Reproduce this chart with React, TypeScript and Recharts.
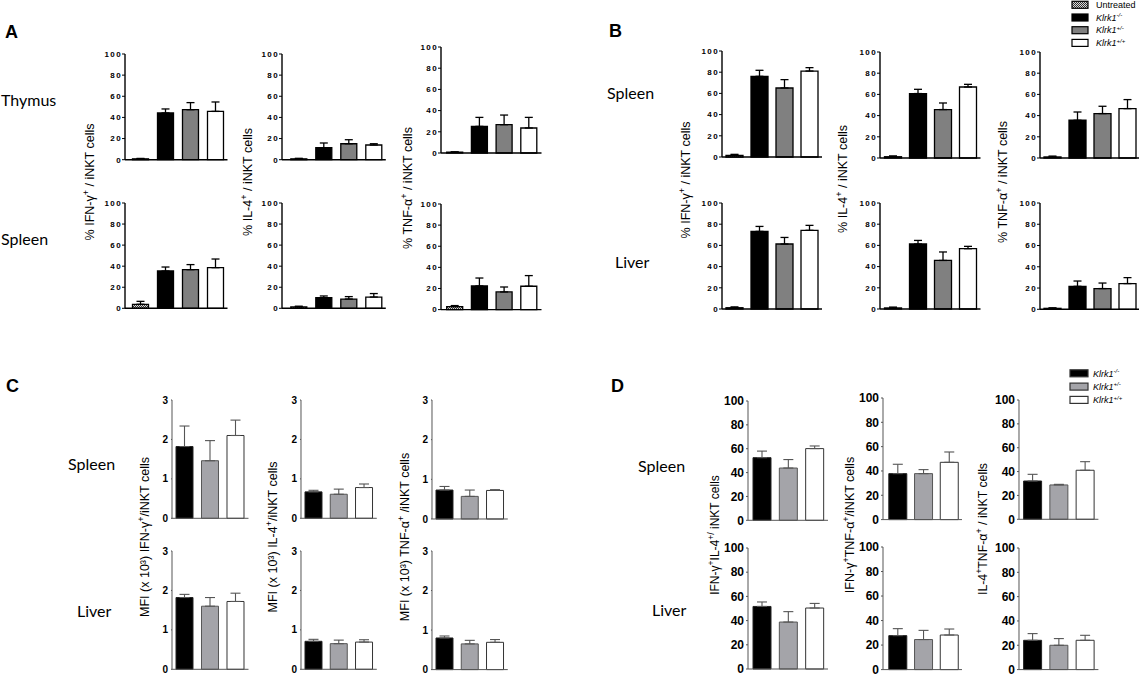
import React from 'react';
import { BarChart, Bar, XAxis, YAxis, ErrorBar, Cell } from 'recharts';

// ---------- categories / ticks ----------
const groupsAB = ['Untreated', 'Klrk1-/-', 'Klrk1+/-', 'Klrk1+/+'];
const groupsCD = ['Klrk1-/-', 'Klrk1+/-', 'Klrk1+/+'];
const pctTicks = [0, 20, 40, 60, 80, 100];
const mfiTicks = [0, 1, 2, 3];

// ---------- Panel A (Thymus / Spleen, % of iNKT cells) ----------
const aThyIfnMean = [0.8, 44.2, 47.3, 45.7];
const aThyIfnSem = [0.4, 3.8, 6.7, 8.9];
const aThyIl4Mean = [0.8, 11.4, 15.1, 13.9];
const aThyIl4Sem = [0.5, 4.4, 3.8, 1.2];
const aThyTnfMean = [0.8, 25.1, 26.7, 23.6];
const aThyTnfSem = [0.3, 8.5, 9.1, 10.0];
const aSplIfnMean = [3.8, 35.4, 36.7, 38.6];
const aSplIfnSem = [2.8, 3.8, 4.8, 8.2];
const aSplIl4Mean = [1.3, 10.1, 8.8, 10.7];
const aSplIl4Sem = [0.7, 1.6, 2.3, 3.3];
const aSplTnfMean = [2.8, 22.4, 16.7, 22.1];
const aSplTnfSem = [1.0, 7.5, 4.7, 10.1];

// ---------- Panel B (Spleen / Liver, % of iNKT cells) ----------
const bSplIfnMean = [1.6, 76.1, 65.1, 81.1];
const bSplIfnSem = [0.9, 5.7, 7.9, 3.2];
const bSplIl4Mean = [1.2, 60.8, 45.7, 67.0];
const bSplIl4Sem = [0.8, 4.0, 6.2, 2.5];
const bSplTnfMean = [1.0, 35.6, 41.9, 46.6];
const bSplTnfSem = [0.8, 7.8, 6.9, 8.5];
const bLivIfnMean = [1.2, 73.2, 61.3, 74.2];
const bLivIfnSem = [0.8, 4.7, 6.2, 4.7];
const bLivIl4Mean = [1.0, 61.3, 45.8, 56.9];
const bLivIl4Sem = [0.8, 3.4, 8.0, 2.2];
const bLivTnfMean = [0.9, 21.6, 19.5, 24.2];
const bLivTnfSem = [0.5, 5.0, 5.2, 5.6];

// ---------- Panel C (MFI x10^3) ----------
const cSplIfnMean = [1.82, 1.46, 2.1];
const cSplIfnSem = [0.52, 0.51, 0.39];
const cSplIl4Mean = [0.67, 0.61, 0.78];
const cSplIl4Sem = [0.04, 0.13, 0.09];
const cSplTnfMean = [0.73, 0.57, 0.72];
const cSplTnfSem = [0.09, 0.16, 0.02];
const cLivIfnMean = [1.82, 1.6, 1.72];
const cLivIfnSem = [0.08, 0.22, 0.21];
const cLivIl4Mean = [0.71, 0.65, 0.69];
const cLivIl4Sem = [0.05, 0.09, 0.06];
const cLivTnfMean = [0.8, 0.65, 0.69];
const cLivTnfSem = [0.05, 0.09, 0.07];

// ---------- Panel D (double positive, % of iNKT cells) ----------
const dSplIfnIl4Mean = [52.5, 43.8, 60.1];
const dSplIfnIl4Sem = [5.5, 7.1, 2.2];
const dSplIfnTnfMean = [37.8, 37.8, 47.1];
const dSplIfnTnfSem = [7.7, 3.3, 8.5];
const dSplIl4TnfMean = [32.1, 28.8, 41.1];
const dSplIl4TnfSem = [5.6, 0.5, 7.2];
const dLivIfnIl4Mean = [51.7, 38.8, 50.4];
const dLivIfnIl4Sem = [3.7, 8.6, 3.8];
const dLivIfnTnfMean = [27.7, 24.5, 28.2];
const dLivIfnTnfSem = [5.7, 7.5, 4.9];
const dLivIl4TnfMean = [24.1, 20.0, 24.1];
const dLivIl4TnfSem = [5.5, 5.5, 4.1];

// ---------- styles ----------
const SANS = "'Liberation Sans', Arial, sans-serif";
const NARROW = "'Liberation Sans Narrow', 'Liberation Sans', Arial, sans-serif";
const ROWF = "Lato, 'Open Sans', sans-serif";

type Style = {
  fills: string[];
  strokes: string[];
  barStroke: number;
  axisColor: string;
  axisWidth: number;
  tick: any;
  tickSize: number;
  tickMargin: number;
  errColor: string;
  errWidth: number;
  cap: number;
  yw: number;
};

const styleAB: Style = {
  fills: ['url(#checker)', '#000000', '#808080', '#ffffff'],
  strokes: ['#000', '#000', '#000', '#000'],
  barStroke: 1.3,
  axisColor: '#000',
  axisWidth: 1.4,
  tick: { fontSize: 8, fontWeight: 900, fill: '#000', fontFamily: SANS, letterSpacing: 1.4 },
  tickSize: 3,
  tickMargin: 0,
  errColor: '#000',
  errWidth: 1.3,
  cap: 4,
  yw: 30,
};

const styleC: Style = {
  fills: ['#000000', '#a4a4a9', '#ffffff'],
  strokes: ['#222', '#555', '#333'],
  barStroke: 1,
  axisColor: '#555',
  axisWidth: 1,
  tick: { fontSize: 10, fontWeight: 700, fill: '#000', fontFamily: SANS },
  tickSize: 1,
  tickMargin: 3,
  errColor: '#555',
  errWidth: 1.1,
  cap: 5,
  yw: 30,
};

const styleD: Style = {
  ...styleC,
  tick: { fontSize: 12, fontWeight: 700, fill: '#000', fontFamily: NARROW },
  tickSize: 2,
  tickMargin: 2,
  yw: 34,
};

type Geo = { x: number; top: number; bottom: number; w: number; pad: number; bar: number };

const G = {
  aIfnT: { x: 125, top: 54.3, bottom: 160, w: 102.5, pad: 2.5, bar: 16 },
  aIfnS: { x: 125, top: 202.7, bottom: 308, w: 102.5, pad: 2.5, bar: 16 },
  aIl4T: { x: 282, top: 54.3, bottom: 160, w: 103.8, pad: 3.8, bar: 16 },
  aIl4S: { x: 282, top: 202.7, bottom: 308, w: 103.8, pad: 3.8, bar: 16 },
  aTnfT: { x: 441, top: 47.3, bottom: 153.3, w: 100.5, pad: 1.7, bar: 16 },
  aTnfS: { x: 441, top: 203.7, bottom: 309.3, w: 100.5, pad: 1.7, bar: 16 },
  bIfnS: { x: 722.3, top: 50.7, bottom: 156.7, w: 100, pad: 0, bar: 17 },
  bIfnL: { x: 722.3, top: 203.3, bottom: 309.3, w: 100, pad: 0, bar: 17 },
  bIl4S: { x: 880, top: 51.7, bottom: 157.7, w: 100.5, pad: 0.5, bar: 17 },
  bIl4L: { x: 880, top: 203.3, bottom: 309.3, w: 100.5, pad: 0.5, bar: 17 },
  bTnfS: { x: 1040, top: 51.7, bottom: 157.7, w: 100, pad: 0, bar: 17 },
  bTnfL: { x: 1040, top: 202.7, bottom: 309, w: 100, pad: 0, bar: 17 },
  cIfnS: { x: 171.7, top: 400, bottom: 518.3, w: 76.5, pad: 0, bar: 17 },
  cIfnL: { x: 171.7, top: 550.7, bottom: 669, w: 76.5, pad: 0, bar: 17 },
  cIl4S: { x: 300.7, top: 400, bottom: 518.3, w: 75.8, pad: 0, bar: 17 },
  cIl4L: { x: 300.7, top: 550.7, bottom: 669, w: 75.8, pad: 0, bar: 17 },
  cTnfS: { x: 431.7, top: 400, bottom: 519, w: 75.8, pad: 0, bar: 17 },
  cTnfL: { x: 431.7, top: 550.7, bottom: 669.3, w: 75.8, pad: 0, bar: 17 },
  dIfnIl4S: { x: 747.7, top: 400.7, bottom: 520, w: 80, pad: 1, bar: 18 },
  dIfnIl4L: { x: 747.7, top: 548.3, bottom: 669.3, w: 80, pad: 1, bar: 18 },
  dIfnTnfS: { x: 883.3, top: 397.7, bottom: 519.3, w: 79, pad: 1.8, bar: 18 },
  dIfnTnfL: { x: 883.3, top: 546.7, bottom: 669.3, w: 79, pad: 1.8, bar: 18 },
  dIl4TnfS: { x: 1019.3, top: 400, bottom: 519.3, w: 79.4, pad: 0.6, bar: 18 },
  dIl4TnfL: { x: 1019.3, top: 547.7, bottom: 669.3, w: 79.4, pad: 0.6, bar: 18 },
};

function MiniBar(props: {
  geo: Geo;
  cats: string[];
  mean: number[];
  sem: number[];
  yMax: number;
  ticks: number[];
  st: Style;
}) {
  const { geo, cats, mean, sem, yMax, ticks, st } = props;
  const data = cats.map((c, i) => ({ name: c, v: mean[i], e: [0, sem[i]] }));
  const YW = st.yw;
  const MT = 7;
  const XH = 8;
  const MR = 3;
  const plotH = geo.bottom - geo.top;
  const width = YW + geo.w + MR;
  const height = MT + plotH + XH;
  return (
    <div style={{ position: 'absolute', left: geo.x - YW, top: geo.top - MT }}>
      <BarChart
        width={width}
        height={height}
        data={data}
        margin={{ top: MT, right: MR, left: 0, bottom: 0 }}
        barCategoryGap={0}
      >
        <XAxis
          dataKey="name"
          height={XH}
          tick={false}
          tickSize={3}
          interval={0}
          axisLine={{ stroke: st.axisColor, strokeWidth: st.axisWidth }}
          tickLine={{ stroke: st.axisColor, strokeWidth: 1 }}
          padding={{ left: geo.pad, right: 0 }}
        />
        <YAxis
          width={YW}
          domain={[0, yMax]}
          ticks={ticks}
          interval={0}
          tick={st.tick}
          tickSize={st.tickSize}
          tickMargin={st.tickMargin}
          axisLine={{ stroke: st.axisColor, strokeWidth: st.axisWidth }}
          tickLine={{ stroke: st.axisColor, strokeWidth: 1 }}
        />
        <Bar dataKey="v" barSize={geo.bar} isAnimationActive={false} strokeWidth={st.barStroke}>
          {data.map((d, i) => (
            <Cell key={d.name} fill={st.fills[i]} stroke={st.strokes[i]} />
          ))}
          <ErrorBar
            dataKey="e"
            direction="y"
            width={st.cap}
            stroke={st.errColor}
            strokeWidth={st.errWidth}
            isAnimationActive={false}
          />
        </Bar>
      </BarChart>
    </div>
  );
}

type Part = { t: string; sup?: boolean };

function VLabel({ cx, cy, size, parts }: { cx: number; cy: number; size: number; parts: Part[] }) {
  let shift = 0;
  const spans = parts.map((p, i) => {
    const target = p.sup ? -size * 0.4 : 0;
    const dy = target - shift;
    shift = target;
    return (
      <tspan key={i} dy={dy} fontSize={p.sup ? size * 0.72 : size}>
        {p.t}
      </tspan>
    );
  });
  return (
    <text
      transform={`translate(${cx},${cy}) rotate(-90)`}
      x={0}
      y={size * 0.35}
      textAnchor="middle"
      fontFamily={SANS}
      fontSize={size}
      fill="#000"
    >
      {spans}
    </text>
  );
}

function LegendRow({ x, y, w, fill, stroke, label, sup, tx, italic }: any) {
  return (
    <g>
      <rect x={x} y={y - 3.5} width={w} height={7} fill={fill} stroke={stroke} strokeWidth={1.2} />
      <text x={tx} y={y + 3.2} fontFamily={SANS} fontSize={9} fontStyle={italic ? 'italic' : 'normal'} fill="#000">
        {label}
        {sup ? (
          <tspan dy={-3.5} fontSize={6}>
            {sup}
          </tspan>
        ) : null}
      </text>
    </g>
  );
}

const legendLabelsB = ['Untreated', 'Klrk1', 'Klrk1', 'Klrk1'];
const legendSupsB = ['', '-/-', '+/-', '+/+'];

export default function App() {
  const ifnLbl: Part[] = [{ t: '% IFN-γ' }, { t: '+', sup: true }, { t: ' / iNKT cells' }];
  const il4Lbl: Part[] = [{ t: '% IL-4' }, { t: '+', sup: true }, { t: ' / iNKT cells' }];
  const tnfLbl: Part[] = [{ t: '% TNF-α' }, { t: '+', sup: true }, { t: ' / iNKT cells' }];

  return (
    <div
      style={{
        position: 'absolute',
        left: 0,
        top: 0,
        width: 1139,
        height: 677,
        background: '#fff',
        overflow: 'hidden',
      }}
    >
      <svg width={0} height={0} style={{ position: 'absolute' }}>
        <defs>
          <pattern id="checker" width={2} height={2} patternUnits="userSpaceOnUse">
            <rect width={2} height={2} fill="#d8d8d8" />
            <rect width={1} height={1} fill="#333" />
            <rect x={1} y={1} width={1} height={1} fill="#333" />
          </pattern>
        </defs>
      </svg>

      {/* Panel A */}
      <MiniBar geo={G.aIfnT} cats={groupsAB} mean={aThyIfnMean} sem={aThyIfnSem} yMax={100} ticks={pctTicks} st={styleAB} />
      <MiniBar geo={G.aIfnS} cats={groupsAB} mean={aSplIfnMean} sem={aSplIfnSem} yMax={100} ticks={pctTicks} st={styleAB} />
      <MiniBar geo={G.aIl4T} cats={groupsAB} mean={aThyIl4Mean} sem={aThyIl4Sem} yMax={100} ticks={pctTicks} st={styleAB} />
      <MiniBar geo={G.aIl4S} cats={groupsAB} mean={aSplIl4Mean} sem={aSplIl4Sem} yMax={100} ticks={pctTicks} st={styleAB} />
      <MiniBar geo={G.aTnfT} cats={groupsAB} mean={aThyTnfMean} sem={aThyTnfSem} yMax={100} ticks={pctTicks} st={styleAB} />
      <MiniBar geo={G.aTnfS} cats={groupsAB} mean={aSplTnfMean} sem={aSplTnfSem} yMax={100} ticks={pctTicks} st={styleAB} />

      {/* Panel B */}
      <MiniBar geo={G.bIfnS} cats={groupsAB} mean={bSplIfnMean} sem={bSplIfnSem} yMax={100} ticks={pctTicks} st={styleAB} />
      <MiniBar geo={G.bIfnL} cats={groupsAB} mean={bLivIfnMean} sem={bLivIfnSem} yMax={100} ticks={pctTicks} st={styleAB} />
      <MiniBar geo={G.bIl4S} cats={groupsAB} mean={bSplIl4Mean} sem={bSplIl4Sem} yMax={100} ticks={pctTicks} st={styleAB} />
      <MiniBar geo={G.bIl4L} cats={groupsAB} mean={bLivIl4Mean} sem={bLivIl4Sem} yMax={100} ticks={pctTicks} st={styleAB} />
      <MiniBar geo={G.bTnfS} cats={groupsAB} mean={bSplTnfMean} sem={bSplTnfSem} yMax={100} ticks={pctTicks} st={styleAB} />
      <MiniBar geo={G.bTnfL} cats={groupsAB} mean={bLivTnfMean} sem={bLivTnfSem} yMax={100} ticks={pctTicks} st={styleAB} />

      {/* Panel C */}
      <MiniBar geo={G.cIfnS} cats={groupsCD} mean={cSplIfnMean} sem={cSplIfnSem} yMax={3} ticks={mfiTicks} st={styleC} />
      <MiniBar geo={G.cIfnL} cats={groupsCD} mean={cLivIfnMean} sem={cLivIfnSem} yMax={3} ticks={mfiTicks} st={styleC} />
      <MiniBar geo={G.cIl4S} cats={groupsCD} mean={cSplIl4Mean} sem={cSplIl4Sem} yMax={3} ticks={mfiTicks} st={styleC} />
      <MiniBar geo={G.cIl4L} cats={groupsCD} mean={cLivIl4Mean} sem={cLivIl4Sem} yMax={3} ticks={mfiTicks} st={styleC} />
      <MiniBar geo={G.cTnfS} cats={groupsCD} mean={cSplTnfMean} sem={cSplTnfSem} yMax={3} ticks={mfiTicks} st={styleC} />
      <MiniBar geo={G.cTnfL} cats={groupsCD} mean={cLivTnfMean} sem={cLivTnfSem} yMax={3} ticks={mfiTicks} st={styleC} />

      {/* Panel D */}
      <MiniBar geo={G.dIfnIl4S} cats={groupsCD} mean={dSplIfnIl4Mean} sem={dSplIfnIl4Sem} yMax={100} ticks={pctTicks} st={styleD} />
      <MiniBar geo={G.dIfnIl4L} cats={groupsCD} mean={dLivIfnIl4Mean} sem={dLivIfnIl4Sem} yMax={100} ticks={pctTicks} st={styleD} />
      <MiniBar geo={G.dIfnTnfS} cats={groupsCD} mean={dSplIfnTnfMean} sem={dSplIfnTnfSem} yMax={100} ticks={pctTicks} st={styleD} />
      <MiniBar geo={G.dIfnTnfL} cats={groupsCD} mean={dLivIfnTnfMean} sem={dLivIfnTnfSem} yMax={100} ticks={pctTicks} st={styleD} />
      <MiniBar geo={G.dIl4TnfS} cats={groupsCD} mean={dSplIl4TnfMean} sem={dSplIl4TnfSem} yMax={100} ticks={pctTicks} st={styleD} />
      <MiniBar geo={G.dIl4TnfL} cats={groupsCD} mean={dLivIl4TnfMean} sem={dLivIl4TnfSem} yMax={100} ticks={pctTicks} st={styleD} />

      {/* Text overlay */}
      <svg width={1139} height={677} style={{ position: 'absolute', left: 0, top: 0, pointerEvents: 'none' }}>
        {/* panel letters */}
        <text x={5} y={38} fontFamily={SANS} fontWeight={700} fontSize={18} fill="#000">A</text>
        <text x={609} y={37} fontFamily={SANS} fontWeight={700} fontSize={18} fill="#000">B</text>
        <text x={6} y={392} fontFamily={SANS} fontWeight={700} fontSize={18} fill="#000">C</text>
        <text x={611} y={392} fontFamily={SANS} fontWeight={700} fontSize={18} fill="#000">D</text>

        {/* row labels */}
        <text x={1} y={106} fontFamily={ROWF} fontSize={16} fill="#000">Thymus</text>
        <text x={1} y={245} fontFamily={ROWF} fontSize={16} fill="#000">Spleen</text>
        <text x={607} y={99} fontFamily={ROWF} fontSize={16} fill="#000">Spleen</text>
        <text x={615} y={268} fontFamily={ROWF} fontSize={16} fill="#000">Liver</text>
        <text x={68} y={469.5} fontFamily={ROWF} fontSize={16} fill="#000">Spleen</text>
        <text x={77} y={616.5} fontFamily={ROWF} fontSize={16} fill="#000">Liver</text>
        <text x={638} y={471.5} fontFamily={ROWF} fontSize={16} fill="#000">Spleen</text>
        <text x={652} y={616} fontFamily={ROWF} fontSize={16} fill="#000">Liver</text>

        {/* A y labels */}
        <VLabel cx={90} cy={182} size={12.5} parts={ifnLbl} />
        <VLabel cx={248} cy={182} size={12.5} parts={il4Lbl} />
        <VLabel cx={408} cy={188} size={12.5} parts={tnfLbl} />
        {/* B y labels */}
        <VLabel cx={686} cy={180} size={12.5} parts={ifnLbl} />
        <VLabel cx={843} cy={179} size={12.5} parts={il4Lbl} />
        <VLabel cx={1003} cy={182} size={12.5} parts={tnfLbl} />
        {/* C y labels */}
        <VLabel cx={145} cy={537} size={12.5} parts={[{ t: 'MFI (x 10³) IFN-γ' }, { t: '+', sup: true }, { t: '/iNKT cells' }]} />
        <VLabel cx={273} cy={537} size={12.5} parts={[{ t: 'MFI (x 10³) IL-4' }, { t: '+', sup: true }, { t: '/iNKT cells' }]} />
        <VLabel cx={405} cy={537} size={12.5} parts={[{ t: 'MFI (x 10³) TNF-α' }, { t: '+', sup: true }, { t: ' /iNKT cells' }]} />
        {/* D y labels */}
        <VLabel cx={715} cy={535} size={12} parts={[{ t: 'IFN-γ' }, { t: '+', sup: true }, { t: 'IL-4' }, { t: '+/', sup: true }, { t: ' iNKT cells' }]} />
        <VLabel cx={850} cy={525} size={12.5} parts={[{ t: 'IFN-γ' }, { t: '+', sup: true }, { t: 'TNF-α' }, { t: '+', sup: true }, { t: '/iNKT  cells' }]} />
        <VLabel cx={983} cy={529} size={12.3} parts={[{ t: 'IL-4' }, { t: '+', sup: true }, { t: 'TNF-α' }, { t: '+', sup: true }, { t: ' / iNKT cells' }]} />

        {/* Legend B */}
        {legendLabelsB.map((lab, i) => (
          <LegendRow
            key={'lb' + i}
            x={1072}
            y={4.8 + i * 12.7}
            w={16}
            fill={styleAB.fills[i]}
            stroke="#000"
            label={lab}
            sup={legendSupsB[i]}
            tx={1096}
            italic={i > 0}
          />
        ))}
        {/* Legend D */}
        {groupsCD.map((g, i) => (
          <LegendRow
            key={'ld' + i}
            x={1070}
            y={373.3 + i * 13.3}
            w={18}
            fill={styleC.fills[i]}
            stroke="#333"
            label="Klrk1"
            sup={legendSupsB[i + 1]}
            tx={1093}
            italic
          />
        ))}
      </svg>
    </div>
  );
}
